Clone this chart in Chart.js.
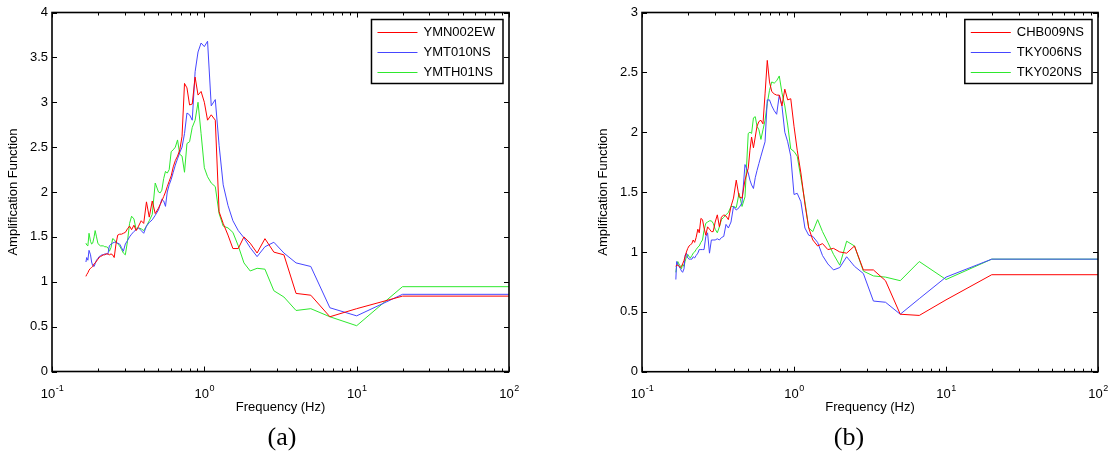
<!DOCTYPE html>
<html>
<head>
<meta charset="utf-8">
<script src="https://cdn.jsdelivr.net/npm/chart.js@4.4.1/dist/chart.umd.min.js"></script>
<style>
  html, body { margin: 0; padding: 0; background: #fff; }
  #wrap { position: relative; width: 1108px; height: 455px; overflow: hidden; }
  .panel { position: absolute; top: 0; width: 554px; height: 455px; }
  .cap { position: absolute; top: 423px; line-height: 28px; font-family: "Liberation Serif", "Times New Roman", serif; font-size: 26px; transform: translateX(-50%); }
</style>
</head>
<body>
<div id="wrap">
  <div class="panel" style="left:0"><canvas id="chart-a"></canvas></div>
  <div class="panel" style="left:554px"><canvas id="chart-b"></canvas></div>
  <div class="cap" style="left:282px">(a)</div>
  <div class="cap" style="left:849px">(b)</div>
</div>
<script>
// 周波数 (Hz) - 全系列共通
var freq = [
  0.167, 0.169, 0.172, 0.175, 0.179, 0.182, 0.185, 0.189, 0.192, 0.196,
  0.2, 0.204, 0.208, 0.213, 0.217, 0.222, 0.227, 0.233, 0.238, 0.244,
  0.25, 0.256, 0.263, 0.270, 0.278, 0.286, 0.294, 0.303, 0.313, 0.323,
  0.333, 0.345, 0.357, 0.370, 0.385, 0.4, 0.417, 0.435, 0.455, 0.476,
  0.5, 0.513, 0.526, 0.541, 0.556, 0.571, 0.588, 0.606, 0.625, 0.645,
  0.667, 0.690, 0.714, 0.741, 0.769, 0.8, 0.833, 0.870, 0.909, 0.952,
  1.0, 1.05, 1.11, 1.18, 1.25, 1.33, 1.43, 1.54, 1.67, 1.82,
  2.0, 2.22, 2.5, 2.86, 3.33, 4.0, 5.0, 6.67, 10, 20,
  100
];

// (a)
var labelsA = ['YMN002EW', 'YMT010NS', 'YMTH01NS'];
var redA = [
  1.06, 1.08, 1.10, 1.13, 1.15, 1.16, 1.17, 1.20, 1.21, 1.23,
  1.25, 1.27, 1.28, 1.29, 1.30, 1.30, 1.31, 1.31, 1.30, 1.31,
  1.30, 1.27, 1.42, 1.52, 1.53, 1.53, 1.54, 1.55, 1.59, 1.62,
  1.58, 1.63, 1.57, 1.62, 1.68, 1.65, 1.89, 1.72, 1.90, 1.76,
  1.82, 1.86, 1.90, 1.95, 2.00, 2.06, 2.12, 2.18, 2.28, 2.35,
  2.40, 2.47, 2.62, 3.21, 3.16, 2.97, 2.98, 3.28, 3.08, 3.12,
  3.00, 2.80, 2.86, 2.80, 1.78, 1.65, 1.52, 1.37, 1.37, 1.50,
  1.43, 1.32, 1.48, 1.33, 1.30, 0.87, 0.85, 0.61, 0.70, 0.84,
  0.84
];
var blueA = [
  1.22, 1.27, 1.24, 1.35, 1.30, 1.22, 1.18, 1.17, 1.20, 1.24,
  1.26, 1.28, 1.29, 1.30, 1.30, 1.31, 1.31, 1.31, 1.40, 1.42,
  1.43, 1.44, 1.44, 1.43, 1.42, 1.38, 1.34, 1.42, 1.46, 1.50,
  1.53, 1.56, 1.58, 1.60, 1.57, 1.54, 1.62, 1.66, 1.69, 1.74,
  1.80, 1.86, 1.92, 1.90, 1.84, 2.00, 2.08, 2.14, 2.22, 2.30,
  2.37, 2.44, 2.50, 2.65, 2.88, 2.86, 2.80, 3.34, 3.56, 3.66,
  3.62, 3.68, 2.96, 3.03, 2.52, 2.08, 1.85, 1.68, 1.57, 1.49,
  1.38, 1.28, 1.39, 1.44, 1.32, 1.21, 1.17, 0.71, 0.62, 0.86,
  0.86
];
var greenA = [
  1.43, 1.41, 1.40, 1.54, 1.45, 1.42, 1.43, 1.50, 1.57, 1.50,
  1.43, 1.41, 1.40, 1.40, 1.40, 1.39, 1.39, 1.38, 1.34, 1.38,
  1.48, 1.47, 1.44, 1.42, 1.40, 1.36, 1.32, 1.30, 1.45, 1.65,
  1.73, 1.70, 1.58, 1.60, 1.59, 1.57, 1.62, 1.68, 1.75, 2.10,
  2.00, 1.99, 2.02, 2.15, 2.23, 2.21, 2.25, 2.45, 2.47, 2.50,
  2.58, 2.42, 2.40, 2.22, 2.54, 2.56, 2.72, 2.80, 3.00, 2.65,
  2.27, 2.17, 2.10, 2.06, 1.76, 1.62, 1.60, 1.55, 1.40, 1.21,
  1.12, 1.15, 1.14, 0.90, 0.83, 0.68, 0.70, 0.61, 0.51, 0.945,
  0.945
];

// (b)
var labelsB = ['CHB009NS', 'TKY006NS', 'TKY020NS'];
var redB = [
  0.88, 0.89, 0.89, 0.88, 0.87, 0.88, 0.90, 0.93, 0.96, 1.00,
  1.03, 1.05, 1.06, 1.07, 1.10, 1.08, 1.12, 1.19, 1.16, 1.28,
  1.27, 1.20, 1.14, 1.21, 1.19, 1.17, 1.17, 1.25, 1.31, 1.21,
  1.29, 1.31, 1.30, 1.27, 1.38, 1.45, 1.60, 1.46, 1.45, 1.60,
  1.70, 1.85, 1.96, 1.87, 1.96, 2.05, 2.09, 2.10, 2.07, 2.32,
  2.60, 2.42, 2.34, 2.32, 2.31, 2.31, 2.22, 2.36, 2.27, 2.28,
  2.05, 1.85, 1.66, 1.40, 1.20, 1.10, 1.05, 1.07, 1.02, 1.03,
  1.00, 0.99, 1.05, 0.85, 0.85, 0.76, 0.48, 0.47, 0.60, 0.81,
  0.81
];
var blueB = [
  0.77, 0.92, 0.90, 0.88, 0.86, 0.84, 0.83, 0.86, 0.97, 0.99,
  0.95, 0.94, 0.94, 0.94, 0.96, 0.95, 0.97, 0.99, 1.02, 1.02,
  1.02, 1.02, 1.13, 1.16, 0.99, 1.10, 1.10, 1.10, 1.11, 1.10,
  1.12, 1.13, 1.23, 1.20, 1.25, 1.38, 1.35, 1.37, 1.41, 1.73,
  1.66, 1.60, 1.56, 1.53, 1.62, 1.68, 1.74, 1.80, 1.86, 1.92,
  2.27, 2.27, 2.22, 2.18, 2.15, 2.31, 2.22, 2.00, 1.92, 1.80,
  1.48, 1.49, 1.42, 1.20, 1.14, 1.13, 1.08, 0.97, 0.90, 0.85,
  0.87, 0.96, 0.88, 0.82, 0.59, 0.58, 0.48, 0.61, 0.79, 0.94,
  0.94
];
var greenB = [
  0.83, 0.88, 0.92, 0.90, 0.88, 0.86, 0.90, 0.88, 0.92, 0.96,
  0.98, 0.96, 0.95, 0.97, 0.99, 1.00, 1.02, 1.04, 1.05, 1.08,
  1.10, 1.18, 1.24, 1.25, 1.26, 1.26, 1.24, 1.19, 1.16, 1.21,
  1.27, 1.29, 1.31, 1.33, 1.38, 1.38, 1.37, 1.49, 1.38, 1.46,
  1.99, 2.00, 1.99, 2.12, 2.13, 2.05, 2.02, 1.94, 2.02, 2.10,
  2.24, 2.35, 2.42, 2.41, 2.43, 2.47, 2.33, 2.22, 2.06, 1.86,
  1.84, 1.80, 1.62, 1.42, 1.20, 1.17, 1.27, 1.17, 1.08, 0.98,
  0.89, 1.09, 1.05, 0.84, 0.80, 0.79, 0.76, 0.92, 0.77, 0.94,
  0.94
];

// 目盛り
var xTicks = [
  0.1, 0.2, 0.3, 0.4, 0.5, 0.6, 0.7, 0.8, 0.9,
  1, 2, 3, 4, 5, 6, 7, 8, 9,
  10, 20, 30, 40, 50, 60, 70, 80, 90, 100
];
var xDecades = [0.1, 1, 10, 100];
var xDecadeExp = ['-1', '0', '1', '2'];
var yTicksA = [0, 0.5, 1, 1.5, 2, 2.5, 3, 3.5, 4];
var yTicksB = [0, 0.5, 1, 1.5, 2, 2.5, 3];

var colors = ['#ff0000', '#4646ff', '#2ee82e'];
var FONT = '"Liberation Sans", Arial, sans-serif';

Chart.defaults.font.family = FONT;
Chart.defaults.font.size = 13;
Chart.defaults.color = '#000';

/** MATLAB風の枠・内向き目盛り・指数ラベル・凡例 */
var matlabAxes = {
  id: 'matlabAxes',
  afterDraw: function(chart) {
    var ctx = chart.ctx;
    var a = chart.chartArea;
    var xs = chart.scales.x;
    var ys = chart.scales.y;

    function seg(x1, y1, x2, y2) {
      ctx.beginPath();
      ctx.moveTo(x1, y1);
      ctx.lineTo(x2, y2);
      ctx.stroke();
    }

    ctx.save();
    ctx.strokeStyle = '#000';
    ctx.lineWidth = 1;

    xTicks.forEach(function(v) {
      var px = Math.round(xs.getPixelForValue(v)) + 0.5;
      var len = xDecades.indexOf(v) >= 0 ? 5 : 3;
      seg(px, a.bottom, px, a.bottom - len);
      seg(px, a.top, px, a.top + len);
    });
    ys.ticks.forEach(function(t) {
      var py = Math.round(ys.getPixelForValue(t.value)) + 0.5;
      seg(a.left, py, a.left + 5, py);
      seg(a.right, py, a.right - 5, py);
    });

    ctx.lineWidth = 1.6;
    ctx.strokeRect(a.left, a.top, a.right - a.left, a.bottom - a.top);

    // 10^n ラベル
    ctx.fillStyle = '#000';
    ctx.textBaseline = 'alphabetic';
    xDecades.forEach(function(v, i) {
      var px = xs.getPixelForValue(v);
      ctx.font = '13px ' + FONT;
      var wBase = ctx.measureText('10').width;
      ctx.font = '9px ' + FONT;
      var wExp = ctx.measureText(xDecadeExp[i]).width;
      var x0 = px - (wBase + wExp) / 2;
      ctx.font = '13px ' + FONT;
      ctx.textAlign = 'left';
      ctx.fillText('10', x0, a.bottom + 26);
      ctx.font = '9px ' + FONT;
      ctx.fillText(xDecadeExp[i], x0 + wBase + 0.5, a.bottom + 19);
    });

    // 凡例
    var items = chart.data.datasets;
    ctx.font = '13px ' + FONT;
    var tw = 0;
    items.forEach(function(d) { tw = Math.max(tw, ctx.measureText(d.label).width); });
    var w = 6 + 40 + 6 + tw + 8;
    var h = 64;
    var lx = a.right - 6 - w;
    var ly = a.top + 7;
    ctx.fillStyle = '#fff';
    ctx.fillRect(lx, ly, w, h);
    ctx.lineWidth = 1.5;
    ctx.strokeRect(lx, ly, w, h);
    ctx.textBaseline = 'middle';
    items.forEach(function(d, i) {
      var yy = Math.round(ly + 12 + i * 20) + 0.5;
      ctx.strokeStyle = d.borderColor;
      ctx.lineWidth = 1;
      seg(lx + 6, yy, lx + 46, yy);
      ctx.fillStyle = '#000';
      ctx.fillText(d.label, lx + 52, yy);
    });
    ctx.restore();
  }
};

function makeChart(canvasId, labels, series, yTicks, pad) {
  var datasets = series.map(function(vals, i) {
    return {
      label: labels[i],
      data: freq.map(function(f, k) { return { x: f, y: vals[k] }; }),
      borderColor: colors[i],
      borderWidth: 1,
      pointRadius: 0,
      tension: 0,
      fill: false
    };
  });

  return new Chart(document.getElementById(canvasId), {
    type: 'line',
    data: { datasets: datasets },
    plugins: [matlabAxes],
    options: {
      responsive: true,
      maintainAspectRatio: false,
      animation: false,
      layout: { padding: pad },
      plugins: { legend: { display: false }, tooltip: { enabled: false } },
      scales: {
        x: {
          type: 'logarithmic',
          min: 0.1,
          max: 100,
          afterBuildTicks: function(s) { s.ticks = xTicks.map(function(v) { return { value: v }; }); },
          afterFit: function(s) { s.height = 43.3; },
          grid: { display: false, drawTicks: false },
          border: { display: false },
          ticks: { display: false },
          title: { display: true, text: 'Frequency (Hz)', color: '#000', padding: 0 }
        },
        y: {
          min: 0,
          max: yTicks[yTicks.length - 1],
          afterBuildTicks: function(s) { s.ticks = yTicks.map(function(v) { return { value: v }; }); },
          afterFit: function(s) { s.width = 46; },
          grid: { display: false, drawTicks: false },
          border: { display: false },
          ticks: { padding: 4, callback: function(v) { return String(v); } },
          title: { display: true, text: 'Amplification Function', color: '#000', padding: 0 }
        }
      }
    }
  });
}

makeChart('chart-a', labelsA, [redA, blueA, greenA], yTicksA, { left: 6, right: 45, top: 12.5, bottom: 40.2 });
makeChart('chart-b', labelsB, [redB, blueB, greenB], yTicksB, { left: 42, right: 10, top: 12.5, bottom: 40 });
</script>
</body>
</html>
